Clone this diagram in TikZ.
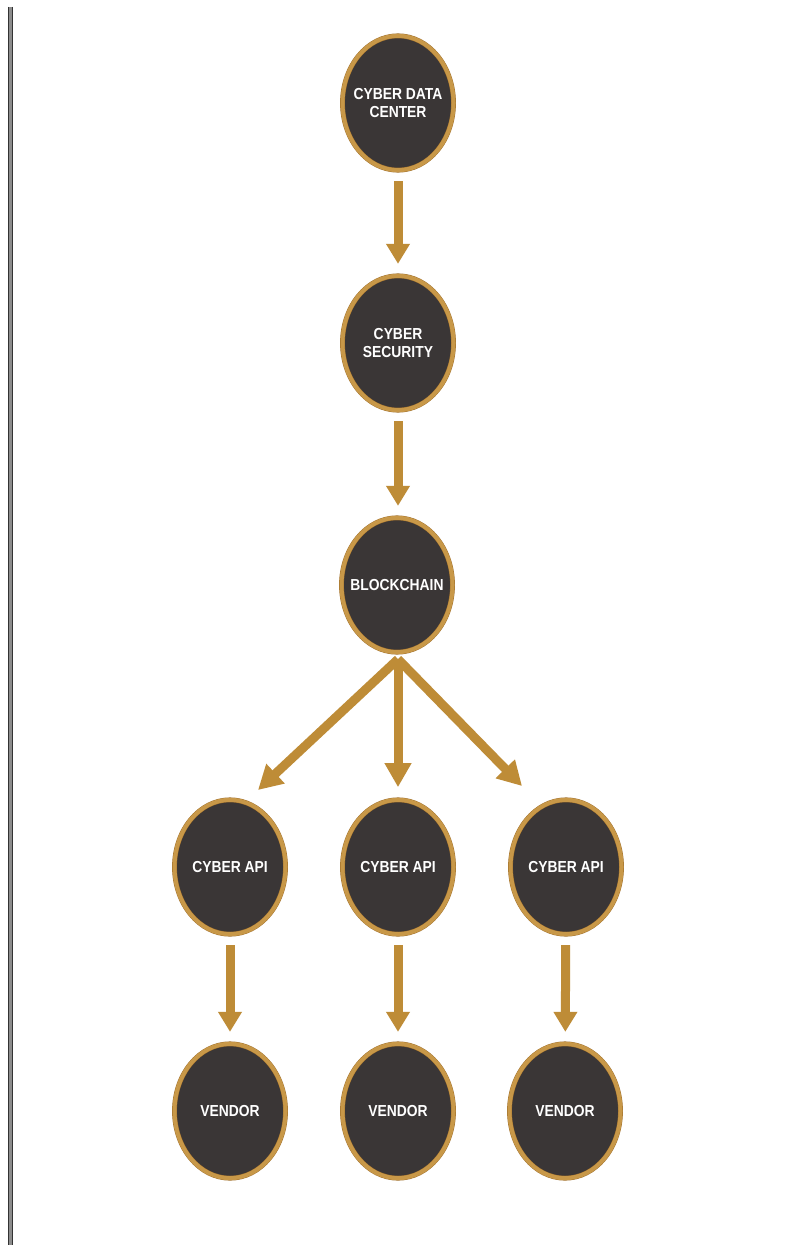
\documentclass[tikz,border=0pt]{standalone}
\usepackage{fontspec}
\usepackage{tikz}
\usetikzlibrary{calc,arrows.meta,shapes.geometric}
\newfontfamily\orbfont{Liberation Sans}[FakeStretch=0.87]
\definecolor{orbgold}{RGB}{200,152,72}
\definecolor{orbrim}{RGB}{160,112,44}
\definecolor{orbfill}{RGB}{58,54,54}
\definecolor{flowgold}{RGB}{190,140,55}

\tikzset{
	orb/.style={ellipse, draw=orbrim, line width=0.35pt, double=orbgold, double distance=0.12cm,
		fill=orbfill, minimum width=3.33cm, minimum height=4.03cm, inner sep=0pt, outer sep=0pt,
		label={[orbtext]center:#1}},
	orbtext/.style={text=white, align=center, inner sep=0pt,
		font=\orbfont\bfseries\fontsize{13.6}{15.8}\selectfont},
	flow/.style={draw=flowgold, line width=0.27cm, -{Triangle[width=0.68cm,length=0.6cm]}},
	fork/.style={draw=flowgold, line width=0.27cm, -{Triangle[width=0.76cm,length=0.72cm]}}
}

\begin{document}
\begin{tikzpicture}[x=0.03cm,y=-0.03cm]
		%%%%% START %%%%%
		
		\useasboundingbox[fill=white] (0, 0) rectangle (794, 1245);
		
		\fill[black!45] (8, 7) rectangle (13, 1245);
		\draw[line width=0.6pt, black!80] (8.3, 7) -- (8.3, 1245);
		\draw[line width=0.6pt, black!80] (12.7, 7) -- (12.7, 1245);
		
		\node[orb={CYBER DATA\\CENTER}] (center) at (398, 103) {};
		\node[orb={CYBER\\SECURITY}] (security) at (398, 343) {};
		\node[orb={BLOCKCHAIN}] (chain) at (397, 585) {};
		
		\node[orb={CYBER API}] (api1) at (230, 867) {};
		\node[orb={CYBER API}] (api2) at (398, 867) {};
		\node[orb={CYBER API}] (api3) at (566, 867) {};
		
		\node[orb={VENDOR}] (vendor1) at (230, 1111) {};
		\node[orb={VENDOR}] (vendor2) at (398, 1111) {};
		\node[orb={VENDOR}] (vendor3) at (565, 1111) {};
		
		\draw[flow, shorten <=0.33cm, shorten >=0.36cm] (center) -- (security);
		\draw[flow, shorten <=0.33cm, shorten >=0.36cm] (security) -- (chain.north -| security);
		
		\coordinate (split) at ($(chain.south)+(1, 7)$);
		\coordinate (tipL) at (258, 790);
		\coordinate (tipR) at (522, 786);
		\draw[fork] (split) -- (tipL);
		\draw[fork] (split) -- (tipR);
		\draw[fork, shorten >=0.38cm] (split) -- (api2.north);
		
		\draw[flow, shorten <=0.33cm, shorten >=0.36cm] (api1) -- (vendor1);
		\draw[flow, shorten <=0.33cm, shorten >=0.36cm] (api2) -- (vendor2);
		\draw[flow, shorten <=0.33cm, shorten >=0.36cm] (api3) -- (vendor3);
		
		%%%%% END %%%%%
	\end{tikzpicture}
\end{document}
